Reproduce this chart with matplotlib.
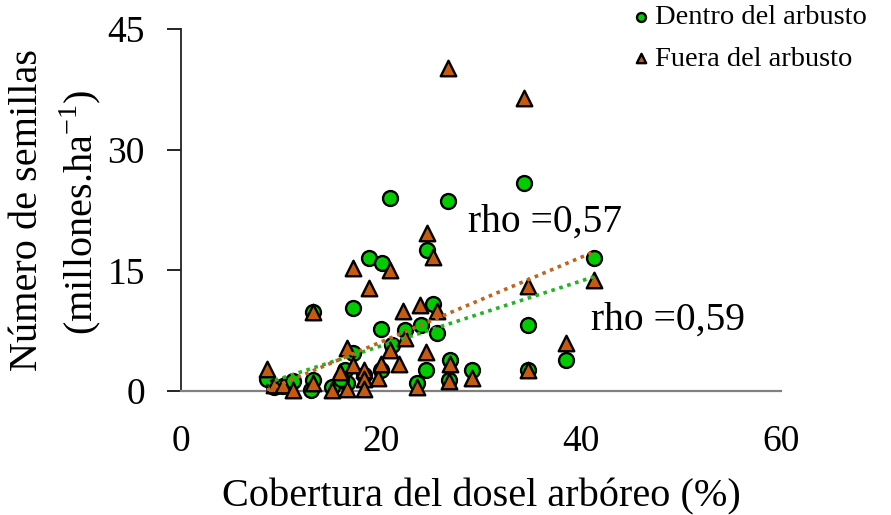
import matplotlib
matplotlib.use("Agg")
import matplotlib.pyplot as plt

plt.rcParams['font.family'] = ['Liberation Serif', 'DejaVu Serif']
plt.rcParams['mathtext.fontset'] = 'custom'
plt.rcParams['mathtext.rm'] = 'Liberation Serif'

# Dentro del arbusto (green circles)
dentro_x = [8.6, 9.3, 10.2, 11.2, 13.2, 13.2, 13.0, 15.1, 16.4, 17.2, 17.2, 18.8, 20.1, 20.9,
            20.0, 21.1, 22.4, 24.0, 25.2, 25.6, 24.6, 26.7, 34.3, 24.5, 26.9, 26.8, 23.6,
            29.1, 34.7, 34.7, 38.5, 41.3, 16.6, 18.3, 20.0, 16.0]
dentro_y = [1.5, 0.5, 0.6, 1.2, 9.8, 1.4, 0.1, 0.5, 2.6, 4.7, 10.3, 16.5, 15.9, 24.0,
            7.7, 5.7, 7.6, 8.2, 10.8, 7.2, 17.5, 23.6, 25.8, 2.6, 3.8, 1.4, 0.95,
            2.6, 8.2, 2.6, 3.9, 16.5, 1.0, 2.0, 2.6, 1.5]

# Fuera del arbusto (brown triangles)
fuera_x = [8.6, 9.3, 10.2, 11.2, 13.2, 13.2, 15.1, 15.9, 16.6, 16.6, 17.2, 17.2, 18.3, 18.3,
           18.3, 18.8, 19.7, 20.0, 20.9, 20.9, 21.8, 22.2, 22.4, 23.9, 24.5, 24.6, 25.2,
           25.6, 26.7, 26.9, 26.8, 23.6, 29.1, 34.3, 34.7, 34.7, 38.5, 41.3]
fuera_y = [2.7, 0.75, 0.75, 0.1, 9.8, 0.95, 0.1, 2.4, 5.3, 0.3, 3.2, 15.3, 2.6, 1.45,
           0.3, 12.8, 1.6, 3.4, 5.1, 15.0, 3.4, 10.0, 6.6, 10.7, 4.9, 19.6, 16.7,
           9.9, 40.1, 3.4, 1.2, 0.45, 1.6, 36.4, 13.0, 2.6, 6.0, 13.8]

# Linear trend lines (endpoints)
trend_x = [8.6, 41.3]
trend_dentro = [1.0, 14.2]
trend_fuera = [0.1, 17.3]

labels = ["Dentro del arbusto", "Fuera del arbusto"]
rho_labels = ["rho =0,57", "rho =0,59"]
xticks = [0, 20, 40, 60]
yticks = [0, 15, 30, 45]

green = '#00CC00'
brown = '#C55A11'

fig = plt.figure(figsize=(8.91, 5.15), dpi=100)
ax = fig.add_axes([181/891, 1-391/515, 600/891, 362/515])

ax.scatter(dentro_x, dentro_y, s=115, marker='o', facecolor=green, edgecolor='black',
           linewidth=1.7, zorder=3, label=labels[0], clip_on=False)
ax.scatter(fuera_x, fuera_y, s=125, marker='^', facecolor=brown, edgecolor='black',
           linewidth=1.7, zorder=4, label=labels[1], clip_on=False)

ax.plot(trend_x, trend_dentro, color='#22B422', lw=2.6, linestyle=(0, (1, 1.3)), zorder=5)
ax.plot(trend_x, trend_fuera, color='#C0641E', lw=2.6, linestyle=(0, (1, 1.3)), zorder=5)

ax.text(36.4, 21.0, rho_labels[0], fontsize=28.5, ha='center', va='center')
ax.text(48.7, 8.8, rho_labels[1], fontsize=28.5, ha='center', va='center')

ax.set_xlim(0, 60)
ax.set_ylim(0, 45)
ax.set_xticks(xticks)
ax.set_yticks(yticks)
ax.tick_params(axis='x', length=0, pad=24, labelsize=27)
ax.tick_params(axis='y', length=10, width=1.2, direction='out', pad=16, labelsize=27)

for s in ['top', 'right']:
    ax.spines[s].set_visible(False)
ax.spines['left'].set_color('#222222')
ax.spines['left'].set_linewidth(1.3)
ax.spines['bottom'].set_color('#808080')
ax.spines['bottom'].set_linewidth(1.6)

ax.set_xlabel("Cobertura del dosel arbóreo (%)", fontsize=29, labelpad=14)

fig.text(28/891, 1-210/515, "Número de semillas", rotation=90, fontsize=29,
         ha='center', va='center')
fig.text(80/891, 1-212/515, "(millones.ha$^{-1}$)", rotation=90, fontsize=29,
         ha='center', va='center')

leg = fig.legend(loc='upper left', bbox_to_anchor=(615/891, 1.025), frameon=False,
                 fontsize=20.5, markerscale=0.6, handlelength=0.6, handletextpad=0.2,
                 labelspacing=0.55, borderpad=0.1, scatterpoints=1)

fig.savefig("out.png", dpi=100)
